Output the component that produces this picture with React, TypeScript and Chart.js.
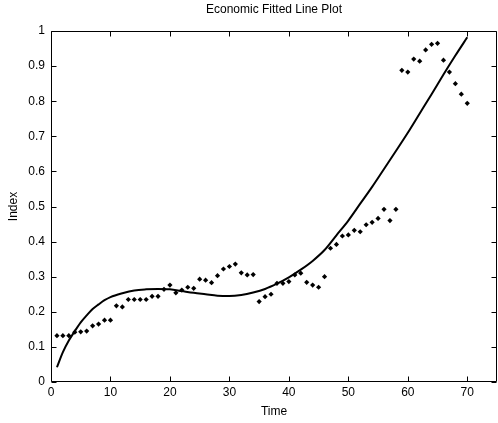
import { useEffect, useRef } from "react";
import { Chart, registerables } from "chart.js";

Chart.register(...registerables);

const timeValues = [
  1, 2, 3, 4, 5, 6, 7, 8, 9, 10, 11, 12, 13, 14, 15, 16, 17, 18, 19, 20,
  21, 22, 23, 24, 25, 26, 27, 28, 29, 30, 31, 32, 33, 34, 35, 36, 37, 38, 39, 40,
  41, 42, 43, 44, 45, 46, 47, 48, 49, 50, 51, 52, 53, 54, 55, 56, 57, 58, 59, 60,
  61, 62, 63, 64, 65, 66, 67, 68, 69, 70,
];
const indexValues = [
  0.132, 0.132, 0.132, 0.142, 0.143, 0.145, 0.16, 0.165, 0.176, 0.176,
  0.217, 0.214, 0.235, 0.235, 0.235, 0.235, 0.244, 0.244, 0.264, 0.276,
  0.254, 0.262, 0.27, 0.267, 0.293, 0.29, 0.283, 0.303, 0.322, 0.329,
  0.336, 0.311, 0.305, 0.306, 0.229, 0.243, 0.25, 0.281, 0.281, 0.286,
  0.305, 0.31, 0.284, 0.276, 0.27, 0.3, 0.381, 0.392, 0.416, 0.419,
  0.432, 0.428, 0.448, 0.455, 0.466, 0.492, 0.46, 0.492, 0.888, 0.883,
  0.92, 0.914, 0.946, 0.962, 0.965, 0.917, 0.883, 0.85, 0.82, 0.794,
];

const fitTime = [
  1, 2, 3, 4, 5, 6, 7, 8, 9, 10, 12, 14, 16, 18, 20, 22, 24, 26, 28, 30,
  32, 34, 36, 38, 40, 42, 44, 46, 48, 50, 52, 54, 56, 58, 60, 62, 64, 66, 68, 70,
];
const fitIndex = [
  0.042, 0.085, 0.118, 0.145, 0.17, 0.19, 0.208, 0.221, 0.233, 0.242,
  0.253, 0.261, 0.264, 0.265, 0.264, 0.259, 0.254, 0.25, 0.246, 0.245,
  0.248, 0.255, 0.265, 0.28, 0.298, 0.32, 0.345, 0.376, 0.418, 0.46,
  0.508, 0.556, 0.607, 0.658, 0.71, 0.765, 0.82, 0.876, 0.93, 0.982,
];

const xTicks = [0, 10, 20, 30, 40, 50, 60, 70];
const yTicks = [0, 0.1, 0.2, 0.3, 0.4, 0.5, 0.6, 0.7, 0.8, 0.9, 1];

const FONT = "'Liberation Sans', Arial, Helvetica, sans-serif";

const boxPlugin = {
  id: "matlabBox",
  afterDraw(chart: any) {
    const { ctx, chartArea, scales } = chart;
    const { left, right, top, bottom } = chartArea;
    const x = scales.x;
    const y = scales.y;
    ctx.save();
    ctx.strokeStyle = "#000";
    ctx.lineWidth = 1;
    const l = Math.round(left) + 0.5;
    const r = Math.round(right) - 0.5;
    const t = Math.round(top) + 0.5;
    const b = Math.round(bottom) - 0.5;
    ctx.beginPath();
    ctx.rect(l, t, r - l, b - t);
    ctx.stroke();
    const len = 5;
    ctx.beginPath();
    for (const v of xTicks) {
      const px = Math.round(x.getPixelForValue(v)) + 0.5;
      ctx.moveTo(px, b);
      ctx.lineTo(px, b - len);
      ctx.moveTo(px, t);
      ctx.lineTo(px, t + len);
    }
    for (const v of yTicks) {
      const py = Math.round(y.getPixelForValue(v)) + 0.5;
      ctx.moveTo(l, py);
      ctx.lineTo(l + len, py);
      ctx.moveTo(r, py);
      ctx.lineTo(r - len, py);
    }
    ctx.stroke();
    ctx.fillStyle = "#000";
    ctx.font = `12px ${FONT}`;
    ctx.textAlign = "center";
    ctx.textBaseline = "middle";
    ctx.fillText("Economic Fitted Line Plot", (left + right) / 2, 10);
    ctx.restore();
  },
};

export default function App() {
  const canvasRef = useRef<HTMLCanvasElement | null>(null);

  useEffect(() => {
    document.body.style.margin = "0";
    const canvas = canvasRef.current;
    if (!canvas) return;
    const scatterData = timeValues.map((t, i) => ({ x: t, y: indexValues[i] }));
    const fitData = fitTime.map((t, i) => ({ x: t, y: fitIndex[i] }));

    const chart = new Chart(canvas, {
      type: "scatter",
      data: {
        datasets: [
          {
            label: "Fit",
            data: fitData,
            showLine: true,
            borderColor: "#000",
            borderWidth: 2,
            pointRadius: 0,
            cubicInterpolationMode: "monotone",
            order: 0,
          } as any,
          {
            label: "Data",
            data: scatterData,
            pointStyle: "rectRot",
            pointRadius: 2.6,
            backgroundColor: "#000",
            borderColor: "#000",
            borderWidth: 0,
            order: 1,
          } as any,
        ],
      },
      options: {
        responsive: false,
        animation: false,
        devicePixelRatio: 1,
        layout: { autoPadding: false, padding: { top: 31, right: 1, left: 0, bottom: 0 } },
        plugins: {
          legend: { display: false },
          tooltip: { enabled: false },
          title: { display: false },
        },
        scales: {
          x: {
            type: "linear",
            min: 0,
            max: 75,
            afterBuildTicks: (s: any) => {
              s.ticks = xTicks.map((v) => ({ value: v }));
            },
            afterFit: (s: any) => {
              s.height = 41;
              s.paddingLeft = 0;
              s.paddingRight = 0;
            },
            grid: { display: false, drawTicks: false },
            border: { display: false },
            ticks: {
              color: "#000",
              padding: 3,
              autoSkip: false,
              maxRotation: 0,
              font: { family: FONT, size: 12 },
              callback: (v: any) => String(v),
            },
            title: {
              display: true,
              text: "Time",
              color: "#000",
              font: { family: FONT, size: 12 },
              padding: { top: 0, bottom: 4 },
            },
          },
          y: {
            type: "linear",
            min: 0,
            max: 1,
            afterBuildTicks: (s: any) => {
              s.ticks = yTicks.map((v) => ({ value: v }));
            },
            afterFit: (s: any) => {
              s.width = 51;
              s.paddingTop = 0;
              s.paddingBottom = 0;
            },
            grid: { display: false, drawTicks: false },
            border: { display: false },
            ticks: {
              color: "#000",
              padding: 6,
              autoSkip: false,
              font: { family: FONT, size: 12 },
              callback: (v: any) => String(v),
            },
            title: {
              display: true,
              text: "Index",
              color: "#000",
              font: { family: FONT, size: 12 },
              padding: { top: 6, bottom: 0 },
            },
          },
        },
      },
      plugins: [boxPlugin],
    });
    return () => chart.destroy();
  }, []);

  return (
    <div style={{ position: "absolute", left: 0, top: 0, width: 498, height: 423 }}>
      <canvas ref={canvasRef} width={498} height={423} style={{ display: "block" }} />
    </div>
  );
}
